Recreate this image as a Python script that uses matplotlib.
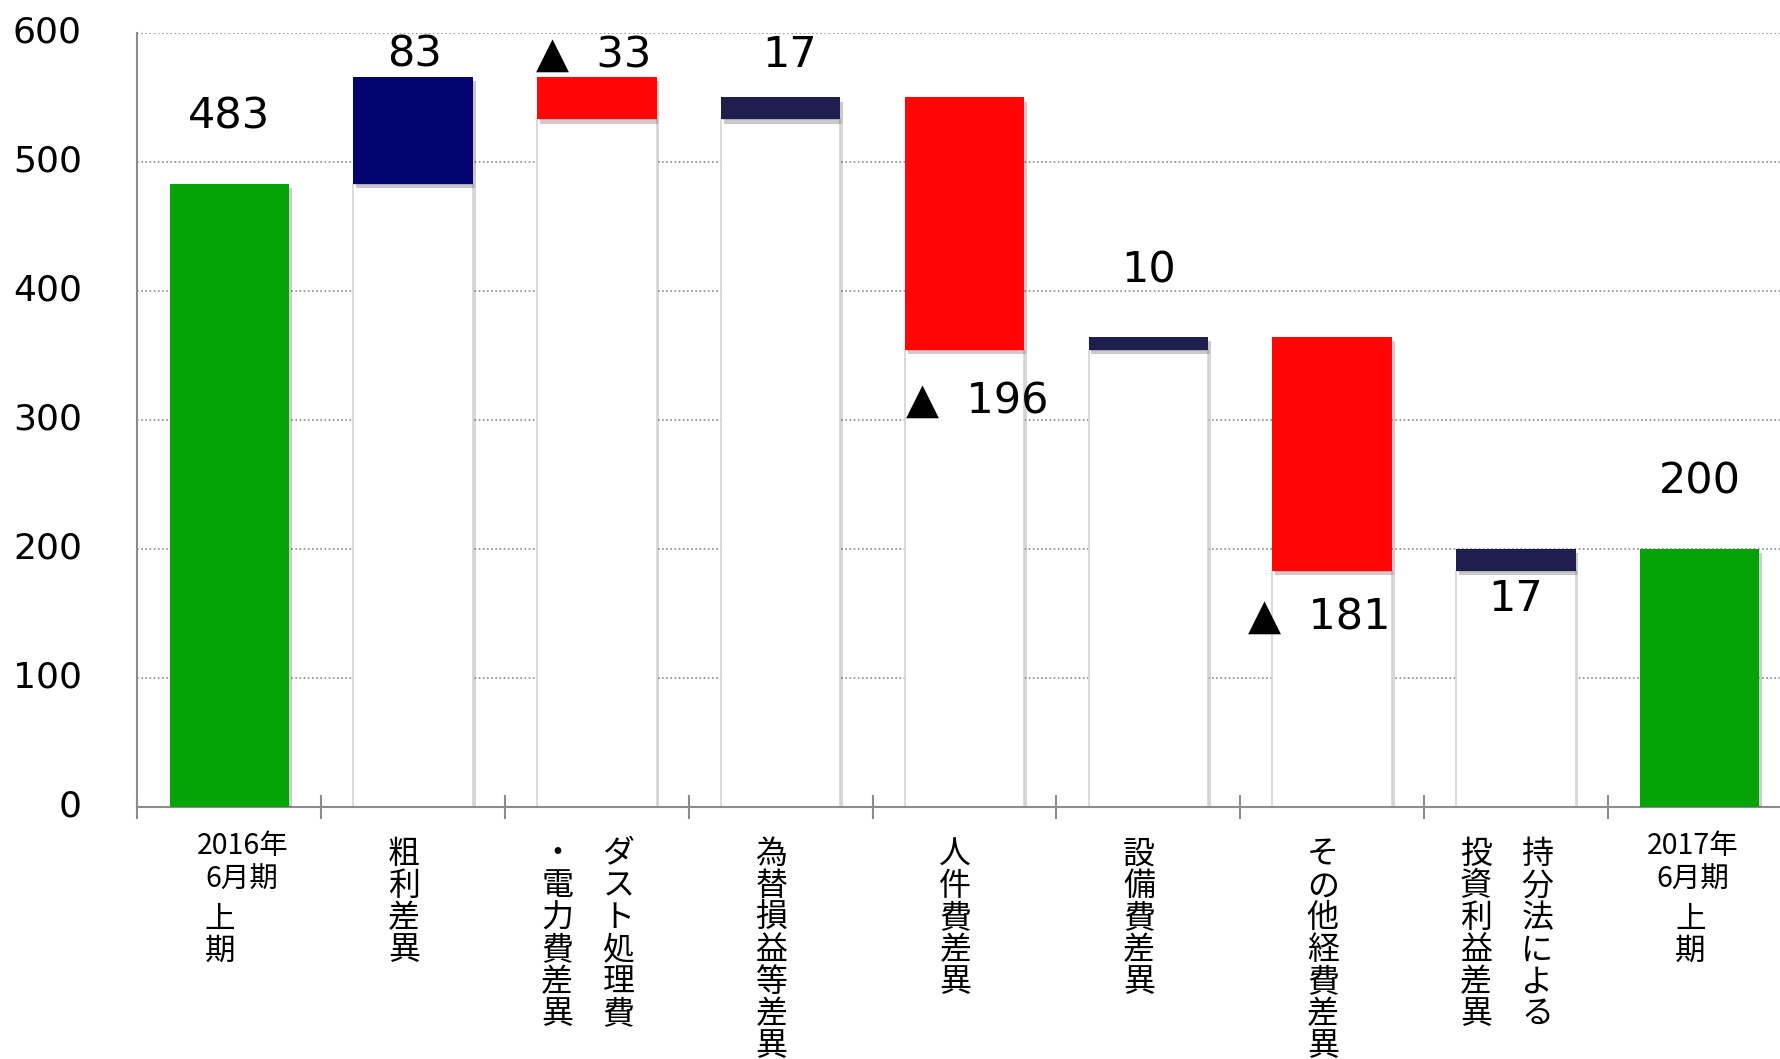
import matplotlib.pyplot as plt
import matplotlib.patheffects as pe
import matplotlib.transforms as mtransforms
import numpy as np

plt.rcParams["font.family"] = ["DejaVu Sans", "Noto Sans CJK JP"]

# data
start_value = 483
end_value = 200
deltas = [83, -33, 17, -196, 10, -181, 17]
period_heads = ["2016年\n6月期", "2017年\n6月期"]
period_tail = "上期"
# vertical labels, columns read right to left
item_columns = [
    ["粗利差異"],
    ["ダスト処理費", "・電力費差異"],
    ["為替損益等差異"],
    ["人件費差異"],
    ["設備費差異"],
    ["その他経費差異"],
    ["持分法による", "投資利益差異"],
]
label_y = [535, 583, 583, 583, 315, 416, 147, 161, 252]
label_dx = [0.0, 0.01, -0.02, 0.05, 0.07, 0.0, -0.07, 0.0, 0.0]

GREEN = "#05A305"
NAVY = "#04046E"
DARK = "#1F1F4F"
RED = "#FF0505"
delta_colors = [NAVY, RED, DARK, RED, DARK, RED, DARK]

fig = plt.figure(figsize=(17.81, 10.59), dpi=100)
ax = fig.add_axes([0.0772, 0.2384, 0.9287, 0.7304])

n = len(deltas) + 2
width = 0.65
shadow = [pe.SimplePatchShadow(offset=(2, -3), alpha=0.22), pe.Normal()]

levels = start_value + np.concatenate([[0], np.cumsum(deltas)])

# totals
ax.bar([0, n - 1], [start_value, end_value], width=width, color=GREEN,
       zorder=3, path_effects=shadow)

# floating bars + white bases
for i, d in enumerate(deltas):
    lo = min(levels[i], levels[i + 1])
    ax.bar(i + 1, lo, width=width, color="white", edgecolor="#d4d4d4",
           linewidth=1.2, zorder=2, path_effects=shadow)
    ax.bar(i + 1, abs(d), bottom=lo, width=width, color=delta_colors[i],
           zorder=3, path_effects=shadow)

# value labels
values = [start_value] + deltas + [end_value]
for i, v in enumerate(values):
    if 0 < i < n - 1 and v < 0:
        txt = "▲  " + str(-v)
    else:
        txt = str(abs(v))
    ax.text(i + label_dx[i], label_y[i], txt, ha="center", va="center",
            fontsize=31, color="black", zorder=5)

ax.set_xlim(-0.5, n - 0.5)
ax.set_ylim(0, 600)
ax.set_yticks(range(0, 601, 100))
ax.tick_params(axis="y", length=0, pad=40, labelsize=26)
# labels sit a little above their gridlines
up = mtransforms.ScaledTranslation(0, 4 / 100, fig.dpi_scale_trans)
for lbl in ax.get_yticklabels():
    lbl.set_transform(lbl.get_transform() + up)
ax.grid(axis="y", color="#8a8a8a", linestyle=(0, (1, 1.5)), linewidth=1.2, zorder=0)
for s in ["top", "right"]:
    ax.spines[s].set_visible(False)
for s in ["left", "bottom"]:
    ax.spines[s].set_color("#8c8c8c")
    ax.spines[s].set_linewidth(1.5)

ax.set_xticks(np.arange(-0.5, n, 1.0))
ax.set_xticklabels([])
ax.set_xticks(np.arange(n), minor=True)
ax.tick_params(axis="x", which="major", direction="inout", length=17,
               width=1.5, color="#8c8c8c")
ax.tick_params(axis="x", which="minor", direction="in", length=6,
               width=1.5, color="#8c8c8c")

# category labels
tr = ax.get_xaxis_transform()
cjk = "Noto Sans CJK JP"
for k, head in enumerate(period_heads):
    x = 0 if k == 0 else n - 1
    dx = 0.07 if k == 0 else -0.035
    ax.text(x + dx, -0.032, head, transform=tr, ha="center", va="top",
            fontsize=20.5, family=cjk, linespacing=1.15)
    ax.text(x - 0.05, -0.126, "\n".join(period_tail), transform=tr,
            ha="center", va="top", fontsize=22, family=cjk, linespacing=1.05)

for i, cols in enumerate(item_columns):
    x = i + 1
    offsets = [-0.05] if len(cols) == 1 else [0.117, -0.217]
    for col, off in zip(cols, offsets):
        ax.text(x + off, -0.041, "\n".join(col), transform=tr, ha="center",
                va="top", fontsize=23, family=cjk, linespacing=1.0)

fig.savefig("out.png", dpi=100)
